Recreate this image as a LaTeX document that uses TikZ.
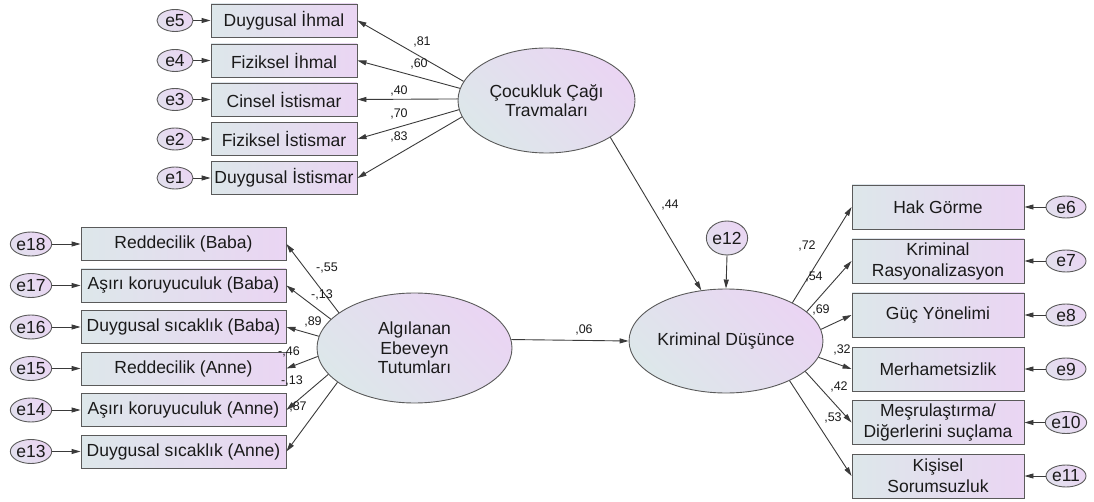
\documentclass[tikz,border=0pt]{standalone}
\usepackage{fontspec}
\setmainfont{Liberation Sans}
\usetikzlibrary{arrows.meta,shapes.geometric}
\definecolor{boxL}{HTML}{DDE7EA}
\definecolor{boxR}{HTML}{EAD5F3}
\definecolor{edgeC}{HTML}{5A5A5A}
\definecolor{lineC}{HTML}{3A3A3A}
\definecolor{txtC}{HTML}{1A1A1A}
\tikzset{
  obsbox/.style={draw=edgeC, line width=0.9pt, left color=boxL, right color=boxR,
    inner sep=0pt, align=center, text=txtC,
    font=\fontsize{17.5pt}{21pt}\selectfont},
  topbox/.style={obsbox, minimum width=146pt, minimum height=33pt},
  leftbox/.style={obsbox, minimum width=205pt, minimum height=33pt},
  rightbox/.style={obsbox, minimum width=172pt, minimum height=44pt},
  latent/.style={ellipse, draw=edgeC, line width=0.9pt, left color=boxL, right color=boxR,
    shading angle=135, inner sep=0pt, align=center, text=txtC,
    font=\fontsize{17.5pt}{19.5pt}\selectfont},
  errell/.style={ellipse, draw=edgeC, line width=0.9pt, left color=boxL!60!boxR, right color=boxR,
    shading angle=135, inner sep=0pt, text=txtC,
    font=\fontsize{17.5pt}{20pt}\selectfont},
  coef/.style={inner sep=0pt, text=txtC, font=\fontsize{12.5pt}{14pt}\selectfont},
  path/.style={draw=lineC, line width=0.9pt, -{Triangle[length=9pt,width=5pt]}},
}
\begin{document}
\begin{tikzpicture}[x=1pt,y=-1pt]
\useasboundingbox (0,0) rectangle (1094,502);
% latent variables
\node[latent, minimum width=177pt, minimum height=105pt] (cct) at (546.5,100.5) {Çocukluk Çağı\\Travmaları};
\node[latent, minimum width=195pt, minimum height=110pt] (aet) at (414.5,348) {Algılanan\\Ebeveyn\\Tutumları};
\node[latent, minimum width=174pt, minimum height=104pt] (kd) at (726,341) {Kriminal Düşünce};
\node[errell, minimum width=36pt, minimum height=34pt] (e12) at (727,238) {e12};
% top indicators
\node[topbox] (t1) at (284,20.5) {Duygusal İhmal};
\node[topbox] (t2) at (284,60.5) {Fiziksel İhmal};
\node[topbox] (t3) at (284,99.5) {Cinsel İstismar};
\node[topbox] (t4) at (284,139) {Fiziksel İstismar};
\node[topbox] (t5) at (284,178) {Duygusal İstismar};
\node[errell, minimum width=36pt, minimum height=22pt] (e5) at (175,20.5) {e5};
\node[errell, minimum width=36pt, minimum height=22pt] (e4) at (175,60.5) {e4};
\node[errell, minimum width=36pt, minimum height=22pt] (e3) at (175,99.5) {e3};
\node[errell, minimum width=36pt, minimum height=22pt] (e2) at (175,139) {e2};
\node[errell, minimum width=36pt, minimum height=22pt] (e1) at (175,178) {e1};
% left indicators
\node[leftbox] (l1) at (183.5,244) {Reddecilik (Baba)};
\node[leftbox] (l2) at (183.5,285.5) {Aşırı koruyuculuk (Baba)};
\node[leftbox] (l3) at (183.5,327) {Duygusal sıcaklık (Baba)};
\node[leftbox] (l4) at (183.5,368.5) {Reddecilik (Anne)};
\node[leftbox] (l5) at (183.5,410) {Aşırı koruyuculuk (Anne)};
\node[leftbox] (l6) at (183.5,451.5) {Duygusal sıcaklık (Anne)};
\node[errell, minimum width=38pt, minimum height=24pt] (e18) at (31,244) {e18};
\node[errell, minimum width=38pt, minimum height=24pt] (e17) at (31,285.5) {e17};
\node[errell, minimum width=38pt, minimum height=24pt] (e16) at (31,327) {e16};
\node[errell, minimum width=38pt, minimum height=24pt] (e15) at (31,368.5) {e15};
\node[errell, minimum width=38pt, minimum height=24pt] (e14) at (31,410) {e14};
\node[errell, minimum width=38pt, minimum height=24pt] (e13) at (31,451.5) {e13};
% right indicators
\node[rightbox] (r1) at (938,207) {Hak Görme};
\node[rightbox] (r2) at (938,261) {Kriminal\\Rasyonalizasyon};
\node[rightbox] (r3) at (938,315) {Güç Yönelimi};
\node[rightbox] (r4) at (938,369) {Merhametsizlik};
\node[rightbox] (r5) at (938,422.5) {Meşrulaştırma/\\Diğerlerini suçlama};
\node[rightbox] (r6) at (938,476) {Kişisel\\Sorumsuzluk};
\node[errell, minimum width=40pt, minimum height=22pt] (e6) at (1066,207) {e6};
\node[errell, minimum width=40pt, minimum height=22pt] (e7) at (1066,261) {e7};
\node[errell, minimum width=40pt, minimum height=22pt] (e8) at (1066,315) {e8};
\node[errell, minimum width=40pt, minimum height=22pt] (e9) at (1066,369) {e9};
\node[errell, minimum width=40pt, minimum height=22pt] (e10) at (1066,422.5) {e10};
\node[errell, minimum width=40pt, minimum height=22pt] (e11) at (1066,476) {e11};
% error arrows
\foreach \e/\b in {e5/t1,e4/t2,e3/t3,e2/t4,e1/t5,e18/l1,e17/l2,e16/l3,e15/l4,e14/l5,e13/l6}
  \draw[path] (\e.east) -- (\b.west);
\foreach \e/\b in {e6/r1,e7/r2,e8/r3,e9/r4,e10/r5,e11/r6}
  \draw[path] (\e.west) -- (\b.east);
\draw[path] (e12.south) -- (kd.north);
% loadings top
\draw[path] (cct.167.6) -- (t1.east);
\draw[path] (cct.172.6) -- (t2.east);
\draw[path] (cct.179.5) -- (t3.east);
\draw[path] (cct.186.3) -- (t4.east);
\draw[path] (cct.191.8) -- (t5.east);
% loadings left
\draw[path] (aet.155.4) -- (l1.east);
\draw[path] (aet.161.5) -- (l2.east);
\draw[path] (aet.173.5) -- (l3.east);
\draw[path] (aet.185.9) -- (l4.east);
\draw[path] (aet.197.1) -- (l5.east);
\draw[path] (aet.204) -- (l6.east);
% loadings right
\draw[path] (kd.30.7) -- (r1.west);
\draw[path] (kd.20.9) -- (r2.west);
\draw[path] (kd.7.9) -- (r3.west);
\draw[path] (kd.350.9) -- (r4.west);
\draw[path] (kd.339.1) -- (r5.west);
\draw[path] (kd.328.6) -- (r6.west);
% structural paths
\draw[path] (cct.330) -- (kd.116);
\draw[path] (aet.5.9) -- (kd.west);
% coefficients
\node[coef] (c81) at (422,42) {,81};
\node[coef] (c60) at (419,64) {,60};
\node[coef] (c40) at (399,91) {,40};
\node[coef] (c70) at (399,114) {,70};
\node[coef] (c83) at (399,137) {,83};
\node[coef] (c55) at (327,268) {-,55};
\node[coef] (c13b) at (322,295) {-,13};
\node[coef] (c89) at (313,322) {,89};
\node[coef] (c46) at (289,352) {-,46};
\node[coef] (c13a) at (292,381) {-,13};
\node[coef] (c87) at (298,407) {,87};
\node[coef] (c72) at (807,246) {,72};
\node[coef] (c54) at (814,277) {,54};
\node[coef] (c69) at (821,310) {,69};
\node[coef] (c32) at (842,350) {,32};
\node[coef] (c42) at (839,387) {,42};
\node[coef] (c53) at (833,418) {,53};
\node[coef] (c44) at (670,205) {,44};
\node[coef] (c06) at (584,330) {,06};
\end{tikzpicture}
\end{document}
